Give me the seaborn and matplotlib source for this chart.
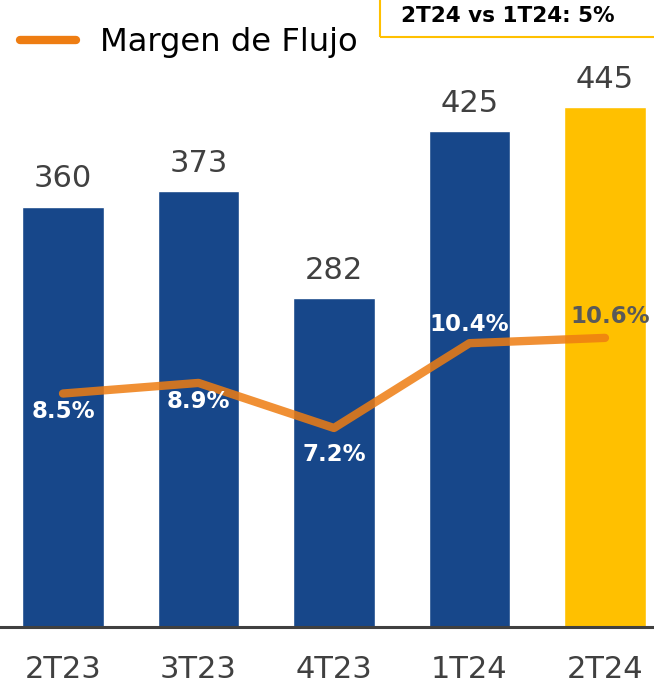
import matplotlib.pyplot as plt
import seaborn as sns
from matplotlib.lines import Line2D
from matplotlib.patches import Rectangle

# data
quarters = ["2T23", "3T23", "4T23", "1T24", "2T24"]
flujo = [360, 373, 282, 425, 445]
margen = [8.5, 8.9, 7.2, 10.4, 10.6]
bar_colors = ["#17478A", "#17478A", "#17478A", "#17478A", "#FFC000"]
# pixel offsets for the margin labels (dx, dy)
label_offsets = [(0, -18), (0, -19), (0, -27), (0, 19), (5, 21)]
label_colors = ["white", "white", "white", "white", "#595959"]

GREY_TEXT = "#404040"
ORANGE = "#EE7D12"

sns.set_style("white")
plt.rcParams["font.family"] = ["DejaVu Sans"]

fig = plt.figure(figsize=(6.54, 6.83), dpi=100)
ax = fig.add_axes([0, 56 / 683, 1, 627 / 683])

sns.barplot(x=quarters, y=flujo, hue=quarters, palette=bar_colors,
            width=0.6, legend=False, saturation=1, ax=ax)
ax.set_xlim(-0.465, 4.362)
ax.set_ylim(0, 537)

for cont in ax.containers:
    ax.bar_label(cont, fmt="%d", padding=9.5, fontsize=22, color=GREY_TEXT)

for s in ["top", "right", "left"]:
    ax.spines[s].set_visible(False)
ax.spines["bottom"].set_color("#404040")
ax.spines["bottom"].set_linewidth(2.2)
ax.set_yticks([])
ax.set_xlabel("")
ax.set_ylabel("")
ax.tick_params(axis="x", length=0, pad=20, labelsize=22, labelcolor=GREY_TEXT)

ax2 = ax.twinx()
sns.lineplot(x=quarters, y=margen, color=ORANGE, alpha=0.85, linewidth=6,
             solid_capstyle="round", ax=ax2)
ax2.set_ylim(-0.31, 23.35)
ax2.set_yticks([])
ax2.set_ylabel("")
for s in ax2.spines.values():
    s.set_visible(False)

for i, (v, (dx, dy), c) in enumerate(zip(margen, label_offsets, label_colors)):
    ax2.annotate(f"{v:.1f}%", (i, v), xytext=(dx, dy), textcoords="offset pixels",
                 ha="center", va="center", fontsize=16.5, fontweight="bold", color=c)

# legend
handle = Line2D([], [], color=ORANGE, linewidth=6, solid_capstyle="round")
leg = fig.legend([handle], ["Margen de Flujo"], loc="center left",
                 bbox_to_anchor=(20 / 654, 1 - 43 / 683), frameon=False,
                 fontsize=23.2, handlelength=1.75, handletextpad=0.72,
                 borderpad=0, borderaxespad=0)
for t in leg.get_texts():
    t.set_color("black")

# top-right note box
fig.patches.append(Rectangle((380 / 654, 1 - 37 / 683), 0.5, 0.2,
                             transform=fig.transFigure, fill=False,
                             edgecolor="#FFC000", linewidth=1.5))
fig.text(508 / 654, 1 - 16 / 683, "2T24 vs 1T24: 5%", ha="center", va="center",
         fontsize=15.5, fontweight="bold", color="black")

fig.savefig("out.png", dpi=100)
